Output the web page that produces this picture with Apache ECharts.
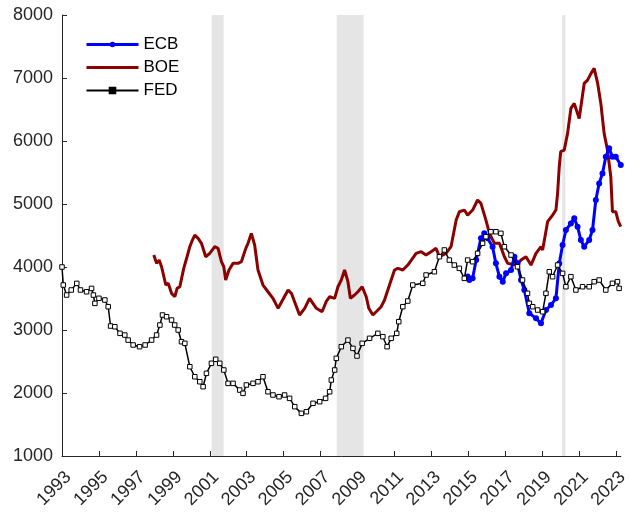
<!DOCTYPE html>
<html>
<head>
    <meta charset="utf-8">
    <title></title>
    <script src="https://cdn.jsdelivr.net/npm/echarts@6.0.0/dist/echarts.min.js"></script>
</head>
<body style="margin:0;background:#fff;">
<div id="main" style="width:631px;height:512px;"></div>
<script type="text/javascript">
    // ECB
    var ecbX = [2014.96, 2015.05, 2015.23, 2015.42, 2015.68, 2015.86, 2016.04, 2016.31, 2016.49, 2016.68, 2016.86,
        2017.04, 2017.31, 2017.49, 2017.66, 2017.85, 2018.03, 2018.3, 2018.66, 2018.93, 2019.2, 2019.47, 2019.74,
        2019.92, 2020.1, 2020.28, 2020.55, 2020.73, 2020.91, 2021.09, 2021.27, 2021.54, 2021.72, 2021.9, 2022.08,
        2022.26, 2022.44, 2022.62, 2022.8, 2022.98, 2023.25];
    var ecbY = [3850, 3793, 3820, 4110, 4455, 4534, 4455, 4322, 4058, 3846, 3767,
        3899, 3952, 4163, 4058, 3793, 3635, 3265, 3185, 3106, 3317, 3396, 3503,
        4057, 4349, 4587, 4692, 4772, 4640, 4428, 4322, 4428, 4587, 5063, 5327,
        5486, 5750, 5883, 5750, 5750, 5618];

    // BOE
    var boeX = [1997.97, 1998.12, 1998.26, 1998.39, 1998.62, 1998.75, 1998.93, 1999.11, 1999.23, 1999.38, 1999.59,
        1999.77, 1999.92, 2000.06, 2000.19, 2000.37, 2000.55, 2000.78, 2001.0, 2001.27, 2001.45, 2001.63, 2001.76,
        2001.86, 2002.04, 2002.26, 2002.53, 2002.71, 2002.95, 2003.07, 2003.25, 2003.43, 2003.61, 2003.88, 2004.15,
        2004.42, 2004.7, 2005.24, 2005.42, 2005.86, 2006.14, 2006.4, 2006.77, 2007.08, 2007.3, 2007.49, 2007.76,
        2007.94, 2008.12, 2008.3, 2008.48, 2008.61, 2008.84, 2009.02, 2009.25, 2009.47, 2009.61, 2009.83, 2010.01,
        2010.28, 2010.46, 2010.73, 2011.0, 2011.18, 2011.45, 2011.72, 2012.17, 2012.44, 2012.71, 2012.98, 2013.25,
        2013.43, 2013.79, 2014.06, 2014.34, 2014.51, 2014.78, 2014.96, 2015.23, 2015.5, 2015.68, 2015.95, 2016.14,
        2016.41, 2016.68, 2016.95, 2017.13, 2017.58, 2017.85, 2018.12, 2018.39, 2018.66, 2018.93, 2019.02, 2019.29,
        2019.56, 2019.74, 2019.83, 2019.92, 2020.0, 2020.19, 2020.37, 2020.55, 2020.73, 2020.91, 2021.0, 2021.27,
        2021.45, 2021.64, 2021.81, 2022.0, 2022.17, 2022.35, 2022.53, 2022.71, 2022.8, 2022.98, 2023.12, 2023.25];
    var boeY = [4190, 4058, 4110, 4004, 3714, 3741, 3582, 3528, 3661, 3687, 3979,
        4163, 4322, 4428, 4507, 4455, 4376, 4163, 4217, 4322, 4296, 4084, 4004,
        3793, 3952, 4058, 4058, 4084, 4296, 4376, 4534, 4349, 3952, 3714, 3607,
        3503, 3344, 3635, 3582, 3238, 3344, 3503, 3344, 3290, 3449, 3528, 3503,
        3687, 3793, 3952, 3767, 3503, 3555, 3608, 3687, 3528, 3344, 3238, 3290,
        3370, 3476, 3714, 3952, 3979, 3952, 4031, 4217, 4243, 4190, 4243, 4296,
        4163, 4217, 4322, 4745, 4877, 4904, 4824, 4904, 5063, 5010, 4745, 4534,
        4376, 4376, 4163, 4058, 4031, 4110, 4163, 4031, 4217, 4322, 4270, 4719,
        4824, 4904, 5169, 5591, 5830, 5856, 6121, 6517, 6597, 6438, 6358, 6914,
        6967, 7073, 7153, 6914, 6597, 6121, 5856, 5433, 4877, 4877, 4719, 4640];

    // FED
    var fedX = [1993.0, 1993.07, 1993.25, 1993.5, 1993.8, 1994.0, 1994.33, 1994.6, 1994.7, 1994.78, 1995.0,
        1995.32, 1995.5, 1995.63, 1995.86, 1996.14, 1996.4, 1996.58, 1996.85, 1997.2, 1997.5, 1997.85, 1998.12,
        1998.3, 1998.44, 1998.66, 1998.93, 1999.1, 1999.29, 1999.47, 1999.65, 1999.92, 2000.19, 2000.46, 2000.64,
        2000.82, 2001.09, 2001.32, 2001.54, 2001.76, 2001.99, 2002.26, 2002.62, 2002.8, 2002.98, 2003.34, 2003.61,
        2003.88, 2004.15, 2004.42, 2004.75, 2005.05, 2005.32, 2005.6, 2005.96, 2006.23, 2006.59, 2006.95, 2007.27,
        2007.49, 2007.58, 2007.76, 2007.85, 2008.12, 2008.48, 2008.75, 2008.97, 2009.25, 2009.65, 2010.1, 2010.37,
        2010.6, 2010.82, 2011.12, 2011.23, 2011.45, 2011.72, 2011.99, 2012.53, 2012.71, 2013.16, 2013.43, 2013.7,
        2013.97, 2014.24, 2014.51, 2014.78, 2014.96, 2015.23, 2015.5, 2015.77, 2015.95, 2016.22, 2016.49, 2016.76,
        2016.95, 2017.31, 2017.66, 2017.93, 2018.2, 2018.3, 2018.48, 2018.75, 2019.02, 2019.2, 2019.38, 2019.56,
        2019.83, 2020.1, 2020.28, 2020.55, 2020.82, 2021.18, 2021.54, 2021.81, 2022.08, 2022.44, 2022.8, 2023.07,
        2023.16];
    var fedY = [4000, 3714, 3555, 3635, 3740, 3635, 3607, 3660, 3555, 3423, 3503,
        3476, 3370, 3063, 3052, 2947, 2920, 2840, 2762, 2735, 2762, 2840, 2920,
        3079, 3238, 3211, 3158, 3079, 3000, 2814, 2788, 2417, 2258, 2179, 2100,
        2312, 2471, 2535, 2471, 2365, 2153, 2153, 2047, 1995, 2127, 2153, 2179,
        2258, 2020, 1968, 1941, 1968, 1915, 1783, 1677, 1703, 1836, 1862, 1915,
        2020, 2206, 2365, 2550, 2735, 2840, 2709, 2587, 2788, 2868, 2947, 2894,
        2735, 2868, 2947, 3132, 3370, 3460, 3714, 3741, 3873, 3925, 4163, 4270,
        4110, 4031, 3979, 3820, 4110, 4084, 4217, 4376, 4481, 4560, 4560, 4534,
        4322, 4190, 4004, 3793, 3582, 3423, 3370, 3317, 3290, 3582, 3925, 3846,
        4031, 3899, 3687, 3846, 3635, 3687, 3687, 3767, 3793, 3635, 3741, 3767,
        3661];

    // recession bands
    var bandStart = [2001.1, 2007.87, 2020.08];
    var bandEnd = [2001.75, 2009.33, 2020.25];

    function zip(xs, ys) {
        var out = [];
        for (var i = 0; i < xs.length; i++) out.push([xs[i], ys[i]]);
        return out;
    }

    var bands = [];
    for (var i = 0; i < bandStart.length; i++) {
        bands.push([{xAxis: bandStart[i]}, {xAxis: bandEnd[i]}]);
    }

    var font = 'Liberation Sans, Arial, Helvetica, sans-serif';
    var axisColor = '#262626';

    var myChart = echarts.init(document.getElementById('main'));
    myChart.setOption({
        animation: false,
        grid: {left: 62, right: 10, top: 15, bottom: 56},
        legend: {
            orient: 'vertical',
            left: 80,
            top: 31,
            itemWidth: 52,
            itemHeight: 7,
            itemGap: 6,
            textStyle: {fontFamily: font, fontSize: 17, color: '#000'},
            data: [
                {name: 'ECB', lineStyle: {width: 3}},
                {name: 'BOE', itemStyle: {opacity: 0}, lineStyle: {width: 3}},
                {name: 'FED', itemStyle: {color: '#000', borderColor: '#000'}}
            ]
        },
        xAxis: {
            type: 'value',
            min: 1993,
            max: 2023.25,
            interval: 2,
            splitLine: {show: false},
            axisLine: {lineStyle: {color: axisColor, width: 1}},
            axisTick: {inside: true, length: 5, lineStyle: {color: axisColor}},
            axisLabel: {
                rotate: 45,
                margin: 12,
                verticalAlign: 'top',
                fontFamily: font,
                fontSize: 18,
                color: axisColor,
                showMaxLabel: false,
                formatter: function (v) { return Number.isInteger(v) ? String(v) : ''; }
            }
        },
        yAxis: {
            type: 'value',
            min: 1000,
            max: 8000,
            interval: 1000,
            splitLine: {show: false},
            axisLine: {show: true, lineStyle: {color: axisColor, width: 1}},
            axisTick: {show: true, inside: true, length: 5, lineStyle: {color: axisColor}},
            axisLabel: {
                fontFamily: font, fontSize: 18, color: axisColor, margin: 9,
                formatter: function (v) { return String(v); }
            }
        },
        series: [
            {
                type: 'line',
                name: 'bands',
                data: [],
                z: 1,
                silent: true,
                markArea: {
                    silent: true,
                    itemStyle: {color: '#e5e5e5'},
                    data: bands
                }
            },
            {
                type: 'line',
                name: 'ECB',
                z: 4,
                data: zip(ecbX, ecbY),
                symbol: 'circle',
                symbolSize: 6,
                showAllSymbol: true,
                lineStyle: {color: '#0000ff', width: 3},
                itemStyle: {color: '#0000ff'}
            },
            {
                type: 'line',
                name: 'BOE',
                z: 3,
                data: zip(boeX, boeY),
                symbol: 'none',
                lineStyle: {color: '#8c0000', width: 3},
                itemStyle: {color: '#8c0000'}
            },
            {
                type: 'line',
                name: 'FED',
                z: 5,
                data: zip(fedX, fedY),
                symbol: 'rect',
                symbolSize: 4.5,
                showAllSymbol: true,
                lineStyle: {color: '#000', width: 1.5},
                itemStyle: {color: '#fff', borderColor: '#000', borderWidth: 1}
            }
        ]
    });
</script>
</body>
</html>
